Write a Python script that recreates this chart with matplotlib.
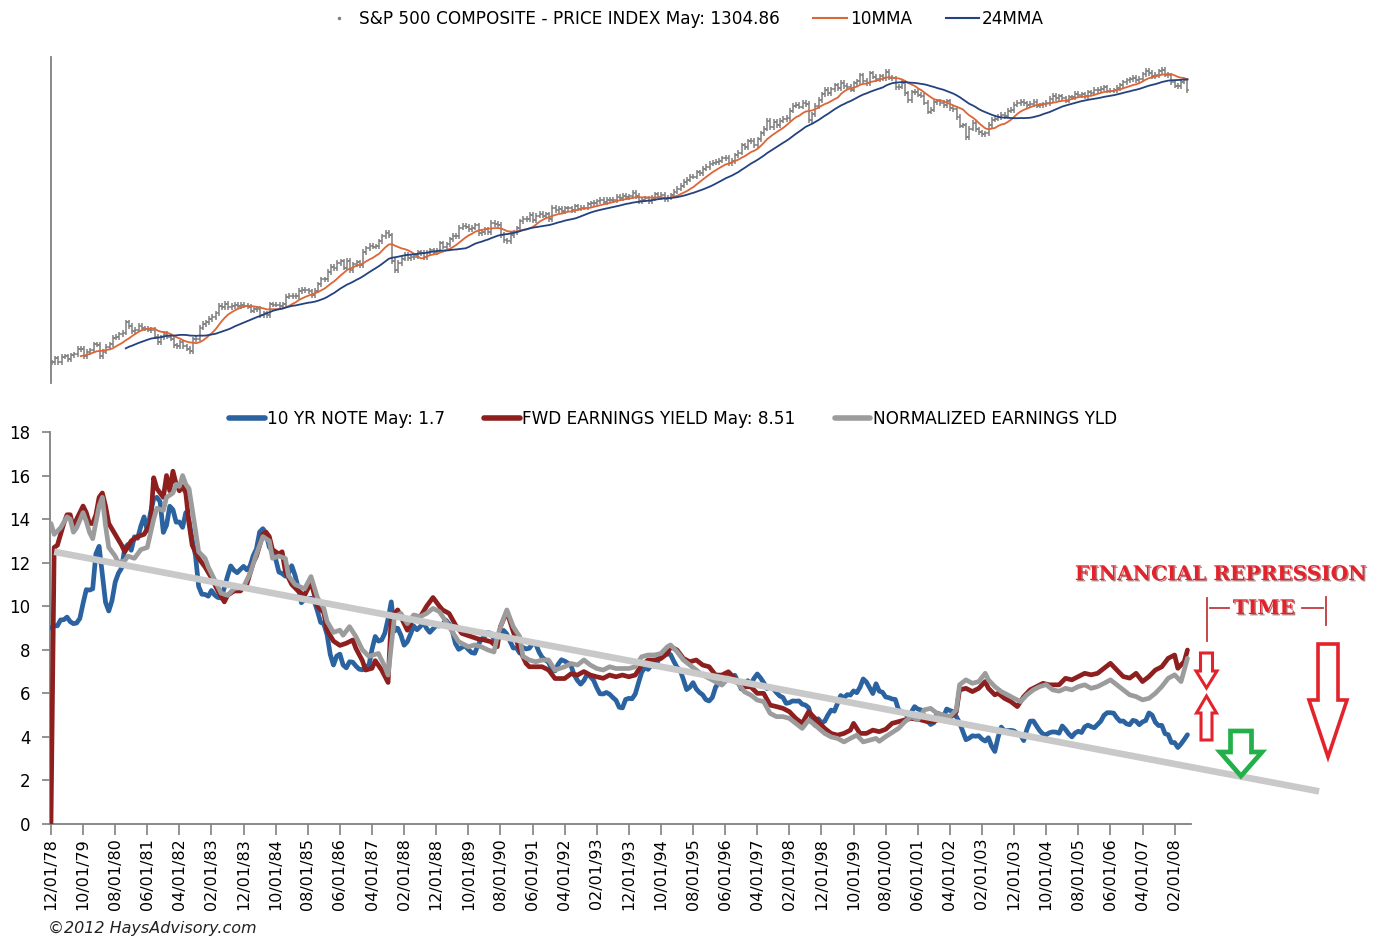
import numpy as np
import pandas as pd
import matplotlib
matplotlib.use("Agg")
import matplotlib.pyplot as plt
from matplotlib.lines import Line2D
from matplotlib.patches import Polygon
import matplotlib.patheffects as pe
from matplotlib import font_manager

W, H = 1387, 939

# ---------------- data ----------------
start_month = "1978-12-01"

# S&P 500 monthly close, Dec 1978 .. Jun 2008
spx = [
    96.1,
    99.9, 96.3, 101.6, 101.8, 99.1, 102.9, 103.8, 109.3, 109.3, 101.8, 106.2, 107.9,
    114.2, 113.7, 102.1, 106.3, 111.2, 114.2, 121.7, 122.4, 125.5, 127.5, 140.5, 135.8,
    129.6, 131.3, 136.0, 132.8, 132.6, 131.2, 130.9, 122.8, 116.2, 121.9, 126.4, 122.6,
    120.4, 113.1, 112.0, 116.4, 111.9, 109.6, 107.1, 119.5, 120.4, 133.7, 138.5, 140.6,
    145.3, 148.1, 153.0, 164.4, 162.4, 168.1, 162.6, 164.4, 166.1, 163.6, 166.4, 164.9,
    163.4, 157.1, 159.2, 160.1, 150.6, 153.2, 150.7, 166.7, 166.1, 166.1, 163.6, 167.2,
    179.6, 181.2, 180.7, 179.8, 189.6, 191.9, 190.9, 188.6, 182.1, 189.8, 202.2, 211.3,
    211.8, 226.9, 238.9, 235.5, 247.4, 250.8, 236.1, 252.9, 231.3, 244.0, 249.2, 242.2,
    274.1, 284.2, 291.7, 288.4, 290.1, 304.0, 318.7, 329.8, 321.8, 251.8, 230.3, 247.1,
    257.1, 267.8, 258.9, 261.3, 262.2, 273.5, 272.0, 261.5, 271.9, 279.0, 273.7, 277.7,
    297.5, 288.9, 294.9, 309.6, 320.5, 318.0, 346.1, 351.5, 349.2, 340.4, 346.0, 353.4,
    329.1, 331.9, 339.9, 330.8, 361.2, 358.0, 356.2, 322.6, 306.1, 304.0, 322.2, 330.2,
    343.9, 367.1, 375.2, 375.3, 389.8, 371.2, 387.8, 395.4, 387.9, 392.5, 375.2, 417.1,
    408.8, 412.7, 403.7, 415.0, 415.4, 408.1, 424.2, 414.0, 417.8, 418.7, 431.4, 435.7,
    438.8, 443.4, 451.7, 440.2, 450.2, 450.5, 448.1, 463.6, 458.9, 467.8, 461.8, 466.5,
    481.6, 467.1, 445.8, 450.9, 456.5, 444.3, 458.3, 475.5, 462.7, 472.4, 453.7, 459.3,
    470.4, 487.4, 500.7, 514.7, 533.4, 544.8, 562.1, 561.9, 584.4, 581.5, 605.4, 615.9,
    636.0, 640.4, 645.5, 654.2, 669.1, 670.6, 640.0, 652.0, 687.3, 705.3, 757.0, 740.7,
    786.2, 790.8, 757.1, 801.3, 848.3, 885.1, 954.3, 899.5, 947.3, 914.6, 955.4, 970.4,
    980.3, 1049.3, 1101.8, 1111.8, 1090.8, 1133.8, 1120.7, 957.3, 1017.0, 1098.7, 1163.6, 1229.2,
    1279.6, 1238.3, 1286.4, 1335.2, 1301.8, 1372.7, 1328.7, 1320.4, 1282.7, 1362.9, 1388.9, 1469.3,
    1394.5, 1366.4, 1498.6, 1452.4, 1420.6, 1454.6, 1430.8, 1517.7, 1436.5, 1429.4, 1315.2, 1320.3,
    1366.0, 1239.9, 1160.3, 1249.5, 1255.8, 1224.4, 1211.2, 1133.6, 1040.9, 1059.8, 1139.5, 1148.1,
    1130.2, 1106.7, 1147.4, 1076.9, 1067.1, 989.8, 911.6, 916.1, 815.3, 885.8, 936.3, 879.8,
    855.7, 841.2, 848.2, 916.9, 963.6, 974.5, 990.3, 1008.0, 996.0, 1050.7, 1058.2, 1111.9,
    1131.1, 1144.9, 1126.2, 1107.3, 1120.7, 1140.8, 1101.7, 1104.2, 1114.6, 1130.2, 1173.8, 1211.9,
    1181.3, 1203.6, 1180.6, 1156.9, 1191.5, 1191.3, 1234.2, 1220.3, 1228.8, 1207.0, 1249.5, 1248.3,
    1280.1, 1280.7, 1294.9, 1310.6, 1270.1, 1270.2, 1276.7, 1303.8, 1335.9, 1377.9, 1400.6, 1418.3,
    1438.2, 1406.8, 1420.9, 1482.4, 1530.6, 1503.4, 1455.3, 1474.0, 1526.8, 1549.4, 1481.1, 1468.4,
    1378.6, 1330.6, 1322.7, 1385.6, 1400.4, 1280.0,
]

# 10 yr note, monthly, Dec 1978 .. Jun 2008
tnote = [
    9.01,
    9.10, 9.10, 9.37, 9.38, 9.50, 9.29, 9.20, 9.23, 9.44, 10.13, 10.76, 10.74,
    10.80, 12.41, 12.75, 11.47, 10.18, 9.78, 10.25, 11.10, 11.51, 11.75, 12.68, 12.84,
    12.57, 13.19, 13.12, 13.68, 14.10, 13.47, 14.28, 14.94, 15.00, 14.80, 13.39, 13.72,
    14.59, 14.43, 13.86, 13.87, 13.62, 14.30, 13.95, 13.06, 12.34, 10.91, 10.55, 10.54,
    10.46, 10.72, 10.51, 10.40, 10.38, 10.85, 11.38, 11.85, 11.65, 11.54, 11.69, 11.83,
    11.67, 11.84, 12.32, 12.63, 13.41, 13.56, 13.36, 12.72, 12.52, 12.16, 11.57, 11.50,
    11.38, 11.51, 11.86, 11.43, 10.85, 10.16, 10.31, 10.33, 10.37, 10.24, 9.78, 9.26,
    9.19, 8.70, 7.78, 7.30, 7.71, 7.80, 7.30, 7.17, 7.45, 7.43, 7.25, 7.11,
    7.08, 7.25, 7.25, 8.02, 8.61, 8.40, 8.45, 8.76, 9.42, 10.20, 8.86, 8.99,
    8.67, 8.21, 8.37, 8.72, 9.09, 8.92, 9.06, 9.26, 8.98, 8.80, 8.96, 9.11,
    9.09, 9.17, 9.36, 9.18, 8.86, 8.28, 8.02, 8.11, 8.19, 8.01, 7.87, 7.84,
    8.21, 8.47, 8.59, 8.79, 8.76, 8.48, 8.47, 8.75, 8.89, 8.72, 8.39, 8.08,
    8.09, 7.85, 8.11, 8.04, 8.07, 8.28, 8.27, 7.90, 7.65, 7.53, 7.42, 7.09,
    7.03, 7.34, 7.54, 7.48, 7.39, 7.26, 6.84, 6.59, 6.42, 6.59, 6.87, 6.77,
    6.60, 6.26, 5.98, 5.97, 6.04, 5.96, 5.81, 5.68, 5.36, 5.33, 5.72, 5.77,
    5.75, 5.97, 6.48, 6.97, 7.18, 7.10, 7.30, 7.24, 7.46, 7.74, 7.96, 7.81,
    7.78, 7.47, 7.20, 7.06, 6.63, 6.17, 6.28, 6.49, 6.20, 6.04, 5.93, 5.71,
    5.65, 5.81, 6.27, 6.51, 6.74, 6.91, 6.87, 6.64, 6.83, 6.53, 6.20, 6.30,
    6.58, 6.42, 6.69, 6.89, 6.71, 6.49, 6.22, 6.30, 6.21, 6.03, 5.88, 5.81,
    5.54, 5.57, 5.65, 5.64, 5.65, 5.50, 5.46, 5.34, 4.81, 4.53, 4.83, 4.65,
    4.72, 5.00, 5.23, 5.18, 5.54, 5.90, 5.79, 5.94, 5.92, 6.11, 6.03, 6.28,
    6.66, 6.52, 6.26, 5.99, 6.44, 6.10, 6.05, 5.83, 5.80, 5.74, 5.72, 5.24,
    5.16, 5.10, 4.89, 5.14, 5.39, 5.28, 5.24, 4.97, 4.73, 4.57, 4.65, 5.09,
    5.04, 4.91, 5.28, 5.21, 5.16, 4.93, 4.65, 4.26, 3.87, 3.94, 4.05, 4.03,
    4.05, 3.90, 3.81, 3.96, 3.57, 3.33, 3.98, 4.45, 4.27, 4.29, 4.30, 4.27,
    4.15, 4.08, 3.83, 4.35, 4.72, 4.73, 4.50, 4.28, 4.13, 4.10, 4.19, 4.23,
    4.22, 4.17, 4.50, 4.34, 4.14, 4.00, 4.18, 4.26, 4.20, 4.46, 4.54, 4.47,
    4.42, 4.57, 4.72, 4.99, 5.11, 5.11, 5.09, 4.88, 4.72, 4.73, 4.60, 4.56,
    4.76, 4.72, 4.56, 4.69, 4.75, 5.10, 5.00, 4.67, 4.52, 4.53, 4.15, 4.10,
    3.74, 3.74, 3.51, 3.68, 3.88, 4.10,
]

# forward earnings yield (month index from Dec 1978, value)
fwd_m = [0, 1, 2, 4, 5, 6, 7, 8, 10, 11, 12, 13, 14, 15, 16, 17, 18, 20, 22, 23,
         25, 27, 29, 31, 32, 33, 35, 36, 37, 38, 39, 40, 41, 42, 43, 44, 46, 47, 48, 50,
         51, 52, 54, 55, 57, 59, 61, 63, 64, 66, 67, 68, 69, 71, 72, 73, 75, 77, 79, 81,
         83, 85, 86, 88, 90, 92, 94, 95, 97, 98, 100, 101, 103, 105, 106, 108, 110, 111, 113, 115,
         117, 119, 121, 122, 124, 126, 128, 131, 133, 135, 137, 139, 140, 142, 144, 146, 148, 149, 151, 153,
         155, 157, 160, 162, 164, 166, 168, 170, 172, 174, 176, 178, 180, 182, 184, 186, 188, 190, 192, 193,
         195, 197, 199, 201, 203, 205, 207, 209, 211, 214, 216, 218, 220, 222, 224, 226, 228, 230, 232, 234,
         236, 238, 241, 243, 245, 247, 249, 250, 252, 254, 256, 258, 260, 262, 264, 266, 268, 271, 273, 275,
         277, 279, 281, 282, 283, 285, 287, 289, 291, 292, 294, 295, 297, 299, 301, 303, 305, 307, 309, 311,
         314, 316, 318, 320, 322, 324, 326, 328, 330, 332, 334, 336, 338, 340, 342, 344, 346, 348, 350, 351,
         353, 354]
fwd_v = [0.0, 12.7, 12.8, 13.8, 14.2, 14.2, 13.6, 14.0, 14.6, 14.3, 13.8, 13.8, 14.2, 15.0, 15.2, 14.6, 13.8, 13.3, 12.8, 12.5,
         13.0, 13.2, 13.3, 13.8, 15.9, 15.4, 15.0, 16.0, 15.3, 16.2, 15.6, 15.3, 15.5, 15.2, 13.8, 12.8, 12.2, 12.0, 11.8, 11.3,
         11.0, 10.7, 10.2, 10.5, 10.7, 10.7, 11.0, 12.0, 12.3, 13.3, 13.4, 13.2, 12.6, 12.4, 12.5, 11.6, 11.0, 10.7, 10.5, 11.1,
         10.0, 9.7, 8.9, 8.4, 8.2, 8.3, 8.45, 8.06, 7.5, 7.07, 7.15, 7.5, 7.07, 6.5, 9.5, 9.83, 9.2, 8.9, 9.45, 9.5,
         10.0, 10.4, 10.0, 9.83, 9.67, 9.14, 8.75, 8.6, 8.5, 8.45, 8.37, 8.14, 9.06, 9.75, 8.83, 8.0, 7.37, 7.22, 7.22, 7.22,
         7.07, 6.68, 6.68, 6.9, 6.84, 7.0, 6.84, 6.76, 6.69, 6.84, 6.76, 6.84, 6.76, 6.84, 7.3, 7.53, 7.53, 7.6, 7.83, 8.14,
         7.99, 7.6, 7.45, 7.53, 7.3, 7.22, 6.84, 6.84, 6.99, 6.53, 6.3, 6.3, 6.0, 6.0, 5.46, 5.39, 5.31, 5.16, 4.85, 4.62,
         5.16, 4.85, 4.39, 4.16, 4.08, 4.16, 4.31, 4.62, 4.16, 4.16, 4.31, 4.24, 4.35, 4.62, 4.7, 4.78, 4.85, 4.78, 4.7, 4.7,
         4.85, 4.78, 5.0, 5.15, 6.16, 6.23, 6.08, 6.23, 6.54, 6.23, 5.93, 6.0, 5.77, 5.62, 5.39, 5.85, 6.16, 6.31, 6.46, 6.39,
         6.39, 6.69, 6.62, 6.77, 6.92, 6.85, 6.92, 7.15, 7.38, 7.07, 6.77, 6.7, 6.92, 6.54, 6.77, 7.07, 7.22, 7.61, 7.76, 7.15,
         7.46, 7.99]

# normalized earnings yield (month index, value)
norm_m = [0, 1, 3, 5, 6, 7, 8, 10, 11, 12, 13, 15, 16, 17, 18, 20, 21, 23, 24, 26,
          28, 30, 32, 33, 35, 36, 38, 39, 40, 41, 42, 43, 45, 46, 48, 49, 51, 53, 55, 57,
          60, 62, 64, 66, 68, 69, 71, 73, 74, 76, 79, 81, 83, 85, 86, 88, 90, 91, 93, 95,
          97, 99, 102, 104, 105, 107, 109, 111, 113, 115, 117, 119, 121, 123, 125, 127, 130, 132, 134, 136,
          138, 139, 141, 142, 144, 146, 147, 149, 151, 153, 155, 157, 160, 162, 164, 166, 168, 170, 172, 174,
          176, 178, 180, 182, 184, 186, 188, 190, 192, 193, 195, 197, 199, 201, 203, 205, 207, 209, 211, 214,
          216, 218, 220, 222, 224, 226, 228, 230, 232, 234, 236, 238, 241, 243, 245, 247, 249, 251, 253, 255,
          257, 258, 260, 262, 264, 266, 268, 270, 272, 274, 276, 278, 280, 282, 283, 285, 287, 289, 291, 292,
          294, 296, 298, 300, 302, 304, 306, 308, 310, 312, 314, 316, 318, 320, 322, 324, 326, 328, 330, 332,
          334, 336, 338, 340, 342, 344, 346, 348, 350, 352, 353, 354]
norm_v = [13.8, 13.3, 13.6, 14.1, 14.0, 13.4, 13.6, 14.3, 13.9, 13.4, 13.1, 14.6, 15.0, 13.7, 12.7, 12.3, 12.0, 12.1, 12.3, 12.2,
          12.6, 12.7, 14.0, 14.5, 14.4, 15.0, 15.2, 15.6, 15.5, 16.0, 15.6, 15.4, 13.5, 12.5, 12.2, 11.8, 11.2, 10.6, 10.5, 10.8,
          10.9, 11.5, 12.4, 13.2, 13.0, 12.2, 12.3, 12.2, 11.4, 11.0, 10.8, 11.36, 10.4, 9.9, 9.3, 8.8, 8.9, 8.67, 9.06, 8.6,
          8.0, 7.7, 7.83, 7.22, 6.84, 9.52, 9.67, 9.2, 9.6, 9.52, 9.67, 9.9, 9.75, 9.3, 8.83, 8.37, 8.14, 8.22, 8.14, 8.0,
          7.9, 8.6, 9.45, 9.83, 9.06, 8.6, 7.7, 7.53, 7.45, 7.53, 7.53, 7.07, 7.22, 7.37, 7.3, 7.53, 7.3, 7.14, 7.07, 7.22,
          7.14, 7.14, 7.14, 7.22, 7.68, 7.76, 7.76, 7.83, 8.14, 8.22, 7.91, 7.53, 7.3, 7.07, 6.84, 6.69, 6.53, 6.38, 6.69, 6.46,
          6.07, 5.92, 5.69, 5.62, 5.08, 4.93, 4.93, 4.85, 4.62, 4.39, 4.77, 4.54, 4.16, 4.0, 3.93, 3.77, 3.93, 4.08, 3.77, 3.85,
          3.93, 3.8, 4.01, 4.2, 4.39, 4.7, 4.93, 4.78, 5.24, 5.31, 5.08, 5.0, 4.93, 5.24, 6.39, 6.62, 6.46, 6.54, 6.92, 6.62,
          6.31, 6.08, 5.93, 5.77, 5.62, 5.93, 6.16, 6.31, 6.4, 6.16, 6.1, 6.23, 6.16, 6.31, 6.39, 6.23, 6.31, 6.46, 6.62, 6.39,
          6.16, 5.93, 5.85, 5.7, 5.77, 6.0, 6.31, 6.69, 6.85, 6.54, 7.07, 7.61]

# long-term trend line drawn across the chart
trend_m = [1, 395]
trend_v = [12.5, 1.5]

legend_top = ["S&P 500 COMPOSITE - PRICE INDEX May: 1304.86", "10MMA", "24MMA"]
legend_bot = ["10 YR NOTE May: 1.7", "FWD EARNINGS YIELD May: 8.51", "NORMALIZED EARNINGS YLD"]

# ---------------- fonts ----------------
names = {f.name for f in font_manager.fontManager.ttflist}
if "Liberation Sans Narrow" in names:
    leg_font = ["Liberation Sans Narrow", "DejaVu Sans"]
    leg_size = 14
else:
    leg_font = ["DejaVu Sans"]
    leg_size = 12.2

# ---------------- figure ----------------
fig = plt.figure(figsize=(W / 100, H / 100), dpi=100)
fig.patch.set_facecolor("white")


def px(x, y):
    return (x / W, 1 - y / H)


months = np.arange(len(spx))
dates = pd.date_range(start_month, periods=len(spx), freq="MS")
xmin, xmax = -0.3, 355.1

# --- top panel: S&P price bars with moving averages (log scale)
ax1 = fig.add_axes([51 / W, 1 - 383 / H, 1140 / W, 326 / H])
close = pd.Series(spx, dtype=float)
opens = close.shift(1).fillna(close.iloc[0]).values
cl = close.values
bar_c = "#7F7F7F"
ax1.vlines(months, np.minimum(opens, cl) * 0.975, np.maximum(opens, cl) * 1.025, color=bar_c, lw=1.1)
ax1.hlines(opens, months - 0.6, months, color=bar_c, lw=1.1)
ax1.hlines(cl, months, months + 0.6, color=bar_c, lw=1.1)
ax1.plot(months, close.rolling(10).mean(), color="#DE6536", lw=1.3)
ax1.plot(months, close.rolling(24).mean(), color="#24427F", lw=1.3)
ax1.set_yscale("log")
ax1.set_ylim(79, 1750)
ax1.set_xlim(xmin, xmax)
ax1.set_xticks([])
ax1.set_yticks([])
ax1.yaxis.set_minor_locator(matplotlib.ticker.NullLocator())
for s in ["top", "right", "bottom"]:
    ax1.spines[s].set_visible(False)
ax1.spines["left"].set_color("#808080")
ax1.spines["left"].set_linewidth(1.3)

# --- bottom panel: yields
ax2 = fig.add_axes([50 / W, 1 - 824 / H, 1141 / W, 392 / H])
c_blue, c_red, c_gray, c_trend = "#2B62A0", "#8E1F1F", "#9C9C9C", "#C9C9C9"
kw = dict(lw=3.4, solid_capstyle="round", solid_joinstyle="round")
ax2.plot(np.arange(len(tnote)), tnote, color=c_blue, zorder=3, **kw)
ax2.plot(fwd_m, fwd_v, color=c_red, zorder=4, **kw)
ax2.plot(norm_m, norm_v, color=c_gray, zorder=5, **kw)
ax2.plot(trend_m, trend_v, color=c_trend, lw=4.8, solid_capstyle="butt", zorder=6, clip_on=False)

ax2.set_xlim(xmin, xmax)
ax2.set_ylim(0, 18)
ax2.set_yticks(range(0, 19, 2))
tick_pos = months[::10]
ax2.set_xticks(tick_pos)
ax2.set_xticklabels([d.strftime("%m/%d/%y") for d in dates[::10]], rotation=90, fontsize=11.5)
ax2.tick_params(axis="x", direction="out", length=8, width=1.2, color="#808080", pad=2)
ax2.tick_params(axis="y", direction="out", length=6, width=1.2, color="#808080", pad=8, labelsize=12)
for s in ["top", "right"]:
    ax2.spines[s].set_visible(False)
for s in ["left", "bottom"]:
    ax2.spines[s].set_color("#808080")
    ax2.spines[s].set_linewidth(1.3)

# --- legends
h_top = [Line2D([], [], ls="none", marker=".", ms=3, color=bar_c),
         Line2D([], [], color="#DE6536", lw=1.5),
         Line2D([], [], color="#24427F", lw=1.5)]
fig.legend(h_top, legend_top, loc="center", bbox_to_anchor=px(683, 19), ncol=3, frameon=False,
           prop={"family": leg_font, "size": leg_size}, handlelength=2.0, handletextpad=0.15,
           columnspacing=2.0, borderaxespad=0)

h_bot = [Line2D([], [], color=c, lw=4, solid_capstyle="round") for c in (c_blue, c_red, c_gray)]
fig.legend(h_bot, legend_bot, loc="center", bbox_to_anchor=px(673, 419), ncol=3, frameon=False,
           prop={"family": leg_font, "size": leg_size}, handlelength=2.1, handletextpad=0.15,
           columnspacing=2.3, borderaxespad=0)

fig.text(48 / W, 1 - 928 / H, "\u00a92012 HaysAdvisory.com", fontsize=11.5, style="italic",
         family=leg_font, color="#222222", va="center", ha="left")

# --- annotations
red = "#E3232B"
shadow = [pe.SimplePatchShadow(offset=(1, -1), shadow_rgbFace="#6A0000", alpha=0.5), pe.Normal()]
fig.text(*px(1221, 574), "FINANCIAL REPRESSION", color=red, fontsize=14.5, fontweight="bold",
         family="DejaVu Serif", ha="center", va="center", path_effects=shadow)
fig.text(*px(1264, 608), "TIME", color=red, fontsize=14.5, fontweight="bold",
         family="DejaVu Serif", ha="center", va="center", path_effects=shadow)

br = "#C0393B"
for xs, ys in [([1207, 1207], [598, 641]), ([1210, 1229], [608, 608]),
               ([1302, 1323], [608, 608]), ([1326, 1326], [597, 625])]:
    fig.add_artist(Line2D([x / W for x in xs], [1 - y / H for y in ys],
                          transform=fig.transFigure, color=br, lw=1.3))


def block_arrow(cx, y_tail, y_base, y_tip, shaft_w, head_w, edge, lw):
    pts = [(cx - shaft_w / 2, y_tail), (cx + shaft_w / 2, y_tail), (cx + shaft_w / 2, y_base),
           (cx + head_w / 2, y_base), (cx, y_tip), (cx - head_w / 2, y_base), (cx - shaft_w / 2, y_base)]
    fig.add_artist(Polygon([px(*p) for p in pts], closed=True, transform=fig.transFigure,
                           facecolor="white", edgecolor=edge, lw=lw, joinstyle="miter", zorder=10))


block_arrow(1206.5, 653, 671, 688, 12, 21, red, 2.2)
block_arrow(1206.5, 740, 713, 696, 11, 20, red, 2.2)
block_arrow(1241, 731, 752, 776, 21, 42, "#23B04A", 3.4)
block_arrow(1328, 644, 700, 757, 20, 38, red, 2.6)

fig.savefig("out.png", dpi=100)
